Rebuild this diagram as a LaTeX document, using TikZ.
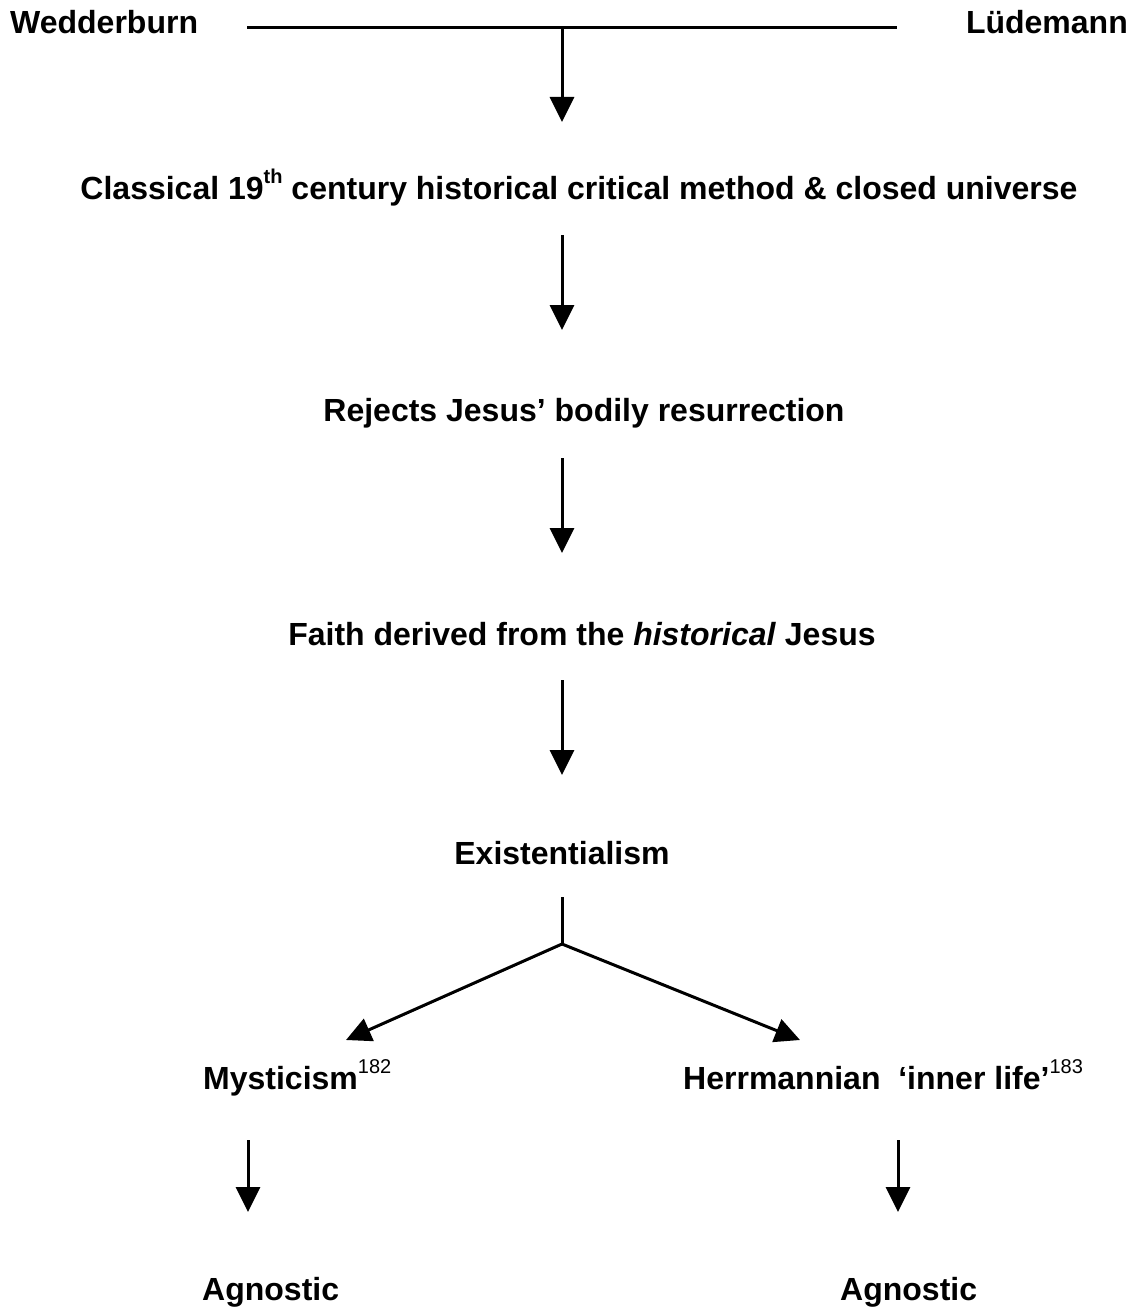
\documentclass[tikz,border=0pt]{standalone}
\usepackage{fontspec}
\setmainfont{Liberation Sans}
\usetikzlibrary{arrows.meta,positioning}

\tikzset{
  lbl/.style={font=\fontsize{32}{38}\selectfont\bfseries, inner sep=0pt},
  flow/.style={line width=3pt, -{Triangle[length=25pt,width=24pt]}},
  bar/.style={line width=3pt},
}
\newcommand{\supnum}[1]{\raisebox{0.5em}{\fontsize{20}{20}\selectfont\mdseries #1}}

\begin{document}
\begin{tikzpicture}[x=1pt,y=-1pt]
	\useasboundingbox (0,0) rectangle (1136,1311);

	%the two names and the bar between them
	\node[lbl, anchor=base west] (wed) at (10,34) {Wedderburn};
	\node[lbl, anchor=base east] (lud) at (1128,34) {Lüdemann};
	\coordinate (barL) at (247,28);
	\coordinate (barR) at (897,28);
	\coordinate (barM) at (562,28);
	\draw[bar] (barL) -- (barR);

	%main chain of ideas
	\node[lbl, anchor=base] (method) at (579,199) {Classical 19\raisebox{0.5em}{\fontsize{20}{20}\selectfont th} century historical critical method \& closed universe};
	\node[lbl, anchor=base] (reject) at (584,421) {Rejects Jesus’ bodily resurrection};
	\node[lbl, anchor=base] (faith) at (582,645) {Faith derived from the \textit{historical} Jesus};
	\node[lbl, anchor=base] (exist) at (562,864) {Existentialism};

	\coordinate (m1) at (562,122);
	\coordinate (r0) at (562,235);
	\coordinate (r1) at (562,330);
	\coordinate (f0) at (562,458);
	\coordinate (f1) at (562,553);
	\coordinate (e0) at (562,680);
	\coordinate (e1) at (562,775);
	\draw[flow] (barM) -- (m1);
	\draw[flow] (r0) -- (r1);
	\draw[flow] (f0) -- (f1);
	\draw[flow] (e0) -- (e1);

	%the fork after existentialism
	\coordinate (fork0) at (562,897);
	\coordinate (fork) at (562,944);
	\coordinate (myst1) at (346,1040);
	\coordinate (herr1) at (800,1040);
	\draw[bar] (fork0) -- (fork);
	\draw[flow] (fork) -- (myst1);
	\draw[flow] (fork) -- (herr1);

	\node[lbl, anchor=base west] (myst) at (203,1089) {Mysticism\supnum{182}};
	\node[lbl, anchor=base west] (herr) at (683,1089) {Herrmannian\ \ ‘inner life’\supnum{183}};

	%both end up agnostic
	\coordinate (ml0) at (248,1140);
	\coordinate (ml1) at (248,1212);
	\coordinate (hl0) at (898,1140);
	\coordinate (hl1) at (898,1212);
	\draw[flow] (ml0) -- (ml1);
	\draw[flow] (hl0) -- (hl1);

	\node[lbl, anchor=base west] (agnL) at (202,1300) {Agnostic};
	\node[lbl, anchor=base west] (agnR) at (840,1300) {Agnostic};
\end{tikzpicture}
\end{document}
